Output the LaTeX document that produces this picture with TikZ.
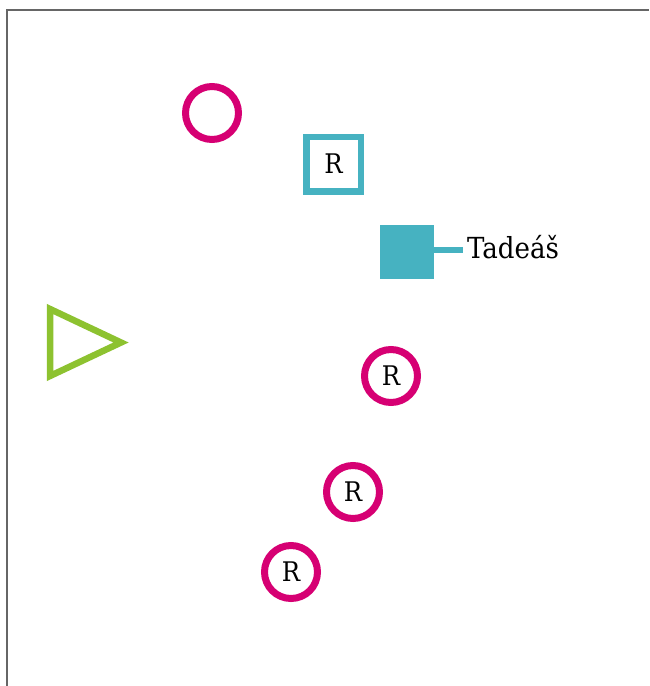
\documentclass[tikz,border=0pt]{standalone}
\usepackage{fontspec}
\setmainfont{DejaVu Serif Condensed}
\usepackage{tikz}
\usetikzlibrary{positioning}

\definecolor{berry}{RGB}{214,0,115}
\definecolor{teal}{RGB}{70,178,193}
\definecolor{lime}{RGB}{141,194,48}

\begin{document}
\begin{tikzpicture}[
    x=1pt, y=-1pt,
    ring/.style={circle, draw=berry, line width=7pt, minimum size=53pt, inner sep=0pt, font=\fontsize{27}{32}\selectfont},
    rbox/.style={rectangle, draw=teal, line width=6.5pt, minimum size=54.5pt, inner sep=0pt, font=\fontsize{27}{32}\selectfont},
    tagbox/.style={rectangle, fill=teal, minimum size=54pt, inner sep=0pt},
    label/.style={anchor=base west, inner xsep=4pt, inner ysep=0pt, font=\fontsize{29}{34}\selectfont},
    link/.style={draw=teal, line width=6pt},
    tri/.style={draw=lime, line width=6.5pt, line join=miter}
]
\useasboundingbox (0,0) rectangle (649,686);

% frame
\draw[gray!80!black, line width=1.5pt] (7,686) -- (7,10) -- (649,10);

% top marks
\node[ring] (open) at (212,113) {};
\node[rbox] (rsq) at (333.5,164) {R};

% tagged square
\node[tagbox] (tag) at (407,251.5) {};
\node[label] (name) at (463,258.5) {Tadeáš};
\draw[link] (tag.east) ++(0,-1.5) coordinate (stub) -- (stub -| name.west);

% triangle
\draw[tri] (50,309) -- (50,376) -- (121,342.5) -- cycle;

% lower rings
\node[ring] (r1) at (391,376) {R};
\node[ring] (r2) at (353,492) {R};
\node[ring] (r3) at (291,572) {R};

\end{tikzpicture}
\end{document}
